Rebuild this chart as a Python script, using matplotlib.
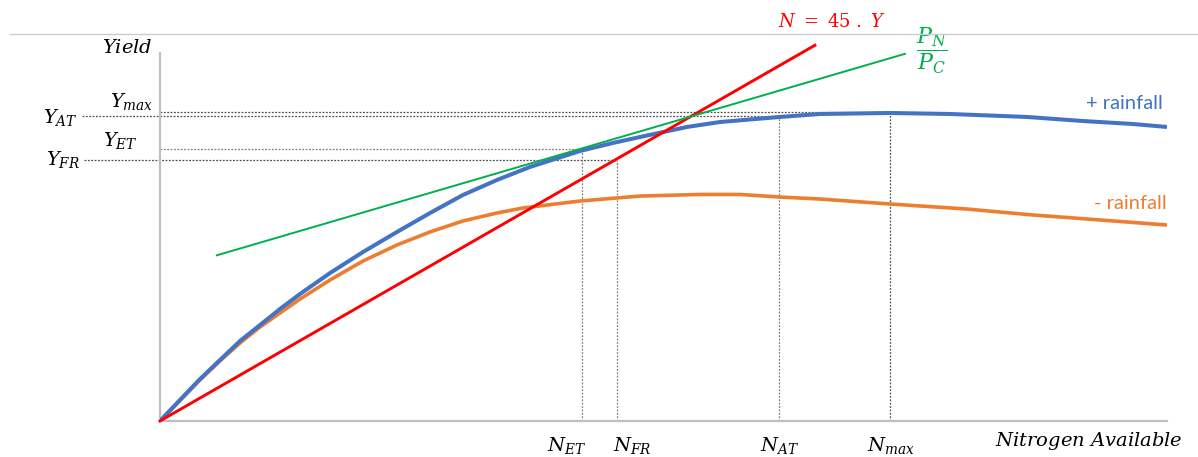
import matplotlib
matplotlib.use("Agg")
import matplotlib.pyplot as plt
from matplotlib.lines import Line2D

plt.rcParams["mathtext.fontset"] = "dejavuserif"

# Nitrogen available (kg/ha) and yield (t/ha) response curves
n_wet = [0, 5.20, 10.41, 15.61, 20.81, 26.02, 31.22, 36.43, 44.23, 52.82,
         61.66, 70.25, 78.83, 87.68, 96.27, 109.28, 117.86, 124.89, 137.11,
         145.70, 161.31, 171.72, 189.93, 205.54, 225.58, 240.15, 253.15, 262.0]
y_wet = [0, 0.212, 0.423, 0.615, 0.806, 0.967, 1.129, 1.280, 1.491, 1.703,
         1.905, 2.096, 2.278, 2.429, 2.560, 2.721, 2.802, 2.862, 2.963,
         3.013, 3.064, 3.094, 3.104, 3.094, 3.064, 3.023, 2.993, 2.963]

n_dry = [0, 5.20, 10.41, 15.61, 20.81, 26.02, 31.22, 36.43, 44.23, 52.82,
         61.66, 70.25, 78.83, 87.68, 94.44, 109.28, 124.89, 140.50, 150.90,
         161.31, 171.72, 189.93, 209.96, 227.14, 244.57, 262.0]
y_dry = [0, 0.207, 0.413, 0.605, 0.786, 0.947, 1.088, 1.229, 1.421, 1.612,
         1.774, 1.905, 2.016, 2.096, 2.147, 2.217, 2.267, 2.283, 2.283,
         2.257, 2.237, 2.187, 2.136, 2.076, 2.026, 1.975]

# Break-even line N = 45 * Y
ratio_ny = 45
n_ratio_end = 170.4

# Price ratio line P_N / P_C
n_price = [14.8, 193.8]
y_price = [1.67, 3.70]

# Reference points: (N, Y) for each optimum
n_et, y_et = 109.8, 2.74
n_fr, y_fr = 118.8, 2.63
n_at, y_at = 161.1, 3.07
n_max, y_max = 189.9, 3.11

fig = plt.figure(figsize=(11.98, 4.57), dpi=100)
ax = fig.add_axes([160 / 1198, 36 / 457, 1007 / 1198, 387 / 457])
ax.set_xlim(0, 262)
ax.set_ylim(0, 3.9)

blue = "#4472C4"
orange = "#ED7D31"
red = "#FF0000"
green = "#00B050"
axis_grey = "#BFBFBF"

for s in ("top", "right"):
    ax.spines[s].set_visible(False)
for s in ("left", "bottom"):
    ax.spines[s].set_color(axis_grey)
    ax.spines[s].set_linewidth(1.6)
ax.spines["left"].set_bounds(0, 3.71)
ax.set_xticks([])
ax.set_yticks([])
ax.patch.set_visible(False)

# Guide lines to each optimum
dot = dict(lw=0.9, ls=(0, (1.5, 1.2)), clip_on=False, zorder=1)
dark, light = "#505050", "#808080"
ax.plot([0, n_max], [y_max, y_max], color=dark, **dot)
ax.plot([-20.2, n_at], [y_at, y_at], color=dark, **dot)
ax.plot([0, n_et], [y_et, y_et], color=light, **dot)
ax.plot([-19.7, n_fr], [y_fr, y_fr], color=dark, **dot)
ax.plot([n_et, n_et], [0, y_et], color=light, **dot)
ax.plot([n_fr, n_fr], [0, y_fr], color=light, **dot)
ax.plot([n_at, n_at], [0, y_at], color=light, **dot)
ax.plot([n_max, n_max], [0, y_max], color=dark, **dot)

# Response curves and economic lines
curve = dict(solid_capstyle="butt", solid_joinstyle="round")
ax.plot(n_dry, y_dry, color=orange, lw=2.6, zorder=3, **curve)
ax.plot(n_wet, y_wet, color=blue, lw=2.9, zorder=4, **curve)
ax.plot([0, n_ratio_end], [0, n_ratio_end / ratio_ny], color=red, lw=2.1,
        clip_on=False, zorder=5)
ax.plot(n_price, y_price, color=green, lw=1.4, zorder=5)

# Figure separator line
fig.add_artist(Line2D([10 / 1198, 1], [1 - 34 / 457, 1 - 34 / 457],
                      color="#CCCCCC", lw=1.0))

tk = dict(clip_on=False, fontsize=14)
ax.text(-1.8, 3.76, r"$Yield$", ha="right", va="center", **tk)
ax.text(-1.8, 3.22, r"$Y_{max}$", ha="right", va="center", **tk)
ax.text(-21.3, 3.06, r"$Y_{AT}$", ha="right", va="center", **tk)
ax.text(-5.7, 2.83, r"$Y_{ET}$", ha="right", va="center", **tk)
ax.text(-20.8, 2.64, r"$Y_{FR}$", ha="right", va="center", **tk)

ax.text(105.9, -0.25, r"$N_{ET}$", ha="center", va="center", **tk)
ax.text(122.8, -0.25, r"$N_{FR}$", ha="center", va="center", **tk)
ax.text(161.3, -0.25, r"$N_{AT}$", ha="center", va="center", **tk)
ax.text(190.2, -0.25, r"$N_{max}$", ha="center", va="center", **tk)
ax.text(241.7, -0.20, r"$Nitrogen\ Available$", ha="center", va="center", **tk)

ax.text(174.8, 4.02, r"$N\ =\ 45\ .\ Y$", ha="center", va="center",
        color=red, clip_on=False, fontsize=13)
ax.text(200.9, 3.73, r"$\dfrac{P_N}{P_C}$", ha="center", va="center",
        color=green, clip_on=False, fontsize=16)

ax.text(260.9, 3.195, "+ rainfall", ha="right", va="center", color=blue,
        family="Lato", fontsize=14.5, clip_on=False)
ax.text(262.0, 2.187, "- rainfall", ha="right", va="center", color=orange,
        family="Lato", fontsize=14.5, clip_on=False)

fig.savefig("out.png", dpi=100)
